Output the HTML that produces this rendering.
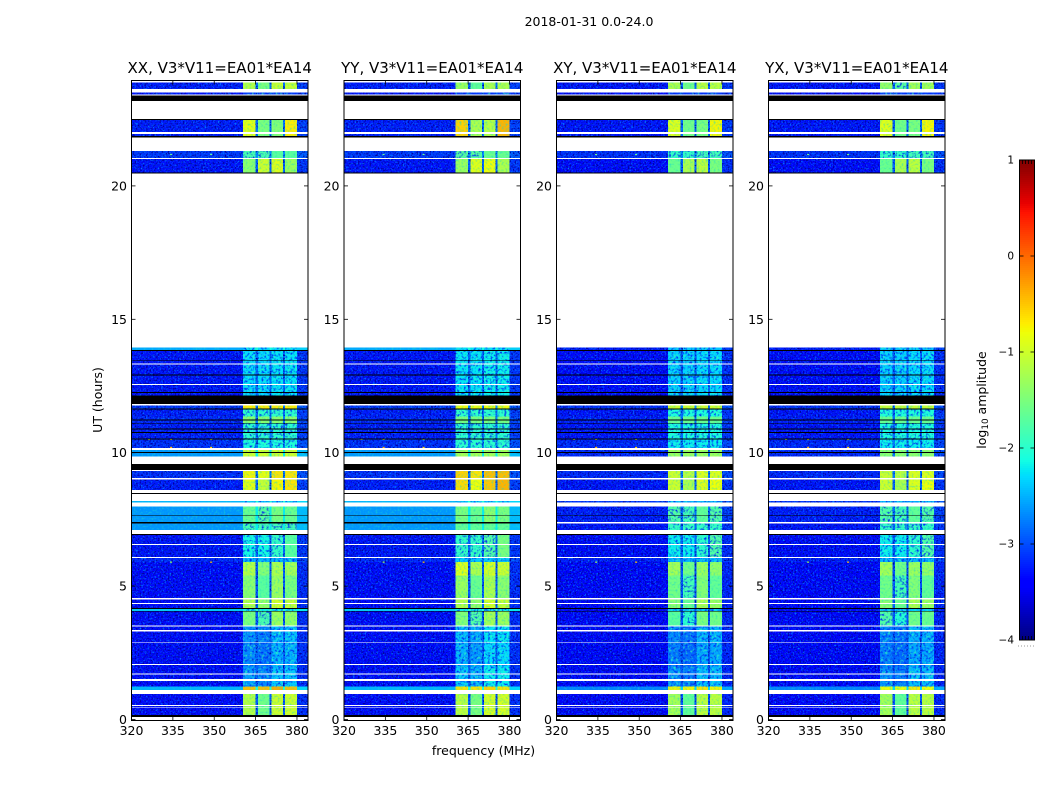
<!DOCTYPE html>
<html lang="en">
<head>
<meta charset="utf-8">
<title>2018-01-31 0.0-24.0 spectrogram</title>
<style>
html,body{margin:0;padding:0;background:#fff;}
svg{display:block;font-family:"DejaVu Sans","Liberation Sans",sans-serif;fill:#000;}
</style>
</head>
<body>
<svg id="chart" xmlns="http://www.w3.org/2000/svg" width="1050" height="800" viewBox="0 0 1050 800">
  <defs>
    <filter id="speckle-background" filterUnits="userSpaceOnUse" x="0" y="0" width="1050" height="800" color-interpolation-filters="sRGB">
      <feTurbulence type="fractalNoise" baseFrequency="0.6" numOctaves="2" seed="7" result="n"/>
      <feColorMatrix in="n" type="matrix" values="0 0 0 0 0  0 0 0 0 0.55  0 0 0 0 1  3 0 0 0 -1.5" result="lightA"/>
      <feComposite in="lightA" in2="SourceAlpha" operator="in" result="light"/>
      <feColorMatrix in="n" type="matrix" values="0 0 0 0 0  0 0 0 0 0  0 0 0 0 0.6  0 -4 0 0 2" result="darkA"/>
      <feComposite in="darkA" in2="SourceAlpha" operator="in" result="dark"/>
      <feMerge>
        <feMergeNode in="SourceGraphic"/>
        <feMergeNode in="light"/>
        <feMergeNode in="dark"/>
      </feMerge>
    </filter>
    <filter id="speckle-weak" filterUnits="userSpaceOnUse" x="0" y="0" width="1050" height="800" color-interpolation-filters="sRGB">
      <feTurbulence type="fractalNoise" baseFrequency="0.42" numOctaves="2" seed="19" result="n"/>
      <feColorMatrix in="n" type="matrix" values="0 0 0 0 0.2  0 0 0 0 1  0 0 0 0 0.7  2.4 0 0 0 -1.2" result="lightA"/>
      <feComposite in="lightA" in2="SourceAlpha" operator="in" result="light"/>
      <feColorMatrix in="n" type="matrix" values="0 0 0 0 0  0 0 0 0 0.15  0 0 0 0 0.95  0 -3 0 0 1.55" result="darkA"/>
      <feComposite in="darkA" in2="SourceAlpha" operator="in" result="dark"/>
      <feMerge>
        <feMergeNode in="SourceGraphic"/>
        <feMergeNode in="light"/>
        <feMergeNode in="dark"/>
      </feMerge>
    </filter>
    <filter id="speckle-strong" filterUnits="userSpaceOnUse" x="0" y="0" width="1050" height="800" color-interpolation-filters="sRGB">
      <feTurbulence type="fractalNoise" baseFrequency="0.5" numOctaves="2" seed="31" result="n"/>
      <feColorMatrix in="n" type="matrix" values="0 0 0 0 0.1  0 0 0 0 0.85  0 0 0 0 0.8  1.6 0 0 0 -0.75" result="lightA"/>
      <feComposite in="lightA" in2="SourceAlpha" operator="in" result="light"/>
      <feMerge>
        <feMergeNode in="SourceGraphic"/>
        <feMergeNode in="light"/>
      </feMerge>
    </filter>
  </defs>
  <text x="589" y="26" font-size="12.5" text-anchor="middle">2018-01-31 0.0-24.0</text>
  <text x="483.5" y="755" font-size="12.5" text-anchor="middle">frequency (MHz)</text>
  <text x="0" y="0" font-size="12.5" text-anchor="middle" transform="translate(102,400) rotate(-90)">UT (hours)</text>
  <text x="0" y="0" font-size="12.5" text-anchor="middle" transform="translate(986,400) rotate(-90)">log<tspan font-size="8.8" dy="2">10</tspan><tspan dy="-2"> amplitude</tspan></text>
</svg>
<script>
// Panels
const polNames = ['XX', 'YY', 'XY', 'YX'];
const panelSuffix = ', V3*V11=EA01*EA14';

// Axis ticks
const freqTicks = [320, 335, 350, 365, 380];
const hourTicks = [0, 5, 10, 15, 20];
const cbarTicks = [1, 0, -1, -2, -3, -4];
const cbarTickLabels = ['1', '0', '\u22121', '\u22122', '\u22123', '\u22124'];
const cbarMinorLow = [-3.95, -3.9, -3.85, -3.8];
const cbarMinorHigh = [0.8, 0.85, 0.9, 0.95];

// Frequency segments (MHz) and which spectral window each one belongs to
const segStart = [320, 360.5, 365, 365.8, 370, 370.8, 375, 375.7, 380];
const segEnd = [360.5, 365, 365.8, 370, 370.8, 375, 375.7, 380, 384];
const segChan = [-1, 0, -1, 1, -1, 2, -1, 3, -1];
const segLift = [0, 0, 0.45, 0, 0.45, 0, 0.45, 0, 0.18];

// Time bands (UT hours)
const bandStart = [0.16,1.11,1.23,1.95,2.86,3.49,4.04,4.18,4.55,5.4,5.91,6.10,7.10,7.40,8.13,8.60,9.06,9.85,10.17,10.5,11.09,11.35,11.66,12.14,13.85,20.51,21.05,21.87,23.38,23.63];
const bandEnd = [0.96,1.23,1.95,2.86,3.49,4.04,4.18,4.55,5.4,5.91,6.10,6.91,7.35,7.98,8.19,9.06,9.32,10.10,10.5,11.09,11.35,11.66,11.76,13.85,13.95,21.01,21.30,22.47,23.51,23.87];

// Window-to-window level offsets per band
const chan0Offset = [0,0,-0.1,-0.1,-0.1,0,0,0,0,0.1,0,-0.2,0,0,0,0,0,0,0,0,0,0,0,0,0,-0.3,-0.1,0.2,0,0];
const chan1Offset = [-0.4,0,-0.2,-0.2,-0.2,-0.3,0,-0.2,-0.3,-0.2,0,-0.2,0,-0.1,0,-0.2,-0.1,0,0,0,0,0,0,0,0,0.1,-0.1,-0.45,0,-0.35];
const chan2Offset = [0.15,0.1,0.1,0.1,0.1,0.2,0,0.2,0.1,0.05,0,0,0,0.1,0,0.1,0.1,0,0,0,0,0,0,0.05,0,0.2,0,-0.4,0,0.1];
const chan3Offset = [0.15,0,0.1,0.1,0.1,0.15,0,0.1,-0.1,0,0,0.25,0,0,0,0.2,0.1,0,0,0,0,0,0,0.05,0,-0.2,0,0.35,0,0.1];
const chanOffsets = [chan0Offset, chan1Offset, chan2Offset, chan3Offset];

// Background log10 amplitude per band, one array per polarisation
const bgXX = [-3.35,-2.5,-3.35,-3.35,-3.35,-3.35,-2.4,-3.35,-3.35,-3.35,-3.2,-3.3,-2.65,-2.65,-2.5,-3.25,-3.15,-2.65,-3.15,-3.25,-3.2,-3.25,-3.1,-3.3,-2.55,-3.3,-3.1,-3.25,-3.3,-3.25];
const bgYY = [-3.35,-2.5,-3.35,-3.35,-3.35,-3.35,-2.4,-3.35,-3.35,-3.35,-3.2,-3.3,-2.65,-2.65,-2.5,-3.25,-3.15,-2.65,-3.15,-3.25,-3.2,-3.25,-3.1,-3.3,-2.55,-3.3,-3.1,-3.25,-3.3,-3.25];
const bgXY = [-3.4,-2.75,-3.4,-3.4,-3.4,-3.4,-3.45,-3.4,-3.4,-3.4,-3.25,-3.35,-3.3,-3.25,-3.1,-3.3,-3.2,-3.2,-3.2,-3.3,-3.25,-3.3,-3.15,-3.35,-3.25,-3.35,-3.15,-3.3,-3.35,-3.3];
const bgYX = [-3.4,-2.75,-3.4,-3.4,-3.4,-3.4,-3.45,-3.4,-3.4,-3.4,-3.25,-3.35,-3.3,-3.25,-3.1,-3.3,-3.2,-3.2,-3.2,-3.3,-3.25,-3.3,-3.15,-3.35,-3.25,-3.35,-3.15,-3.3,-3.35,-3.3];

// Source signal log10 amplitude per band, one array per polarisation
const sigXX = [-1.15,-0.45,-2.5,-2.6,-2.55,-1.5,-2.2,-1.15,-1.4,-1.25,-2.5,-1.95,-1.85,-1.6,-2.4,-0.85,-0.75,-1.0,-2.1,-2.0,-1.4,-2.0,-0.7,-2.3,-2.3,-1.1,-1.7,-1.05,-3.1,-1.15];
const sigYY = [-1.1,-0.65,-2.3,-2.4,-2.35,-1.45,-2.2,-1.15,-1.3,-1.0,-2.4,-1.75,-1.65,-1.5,-2.4,-0.6,-0.55,-1.25,-2.0,-2.0,-1.5,-2.0,-0.8,-2.25,-2.3,-1.0,-1.6,-0.75,-3.1,-1.3];
const sigXY = [-1.25,-0.75,-2.55,-2.65,-2.6,-1.7,-2.4,-1.4,-1.55,-1.35,-2.5,-2.0,-1.95,-1.75,-2.5,-1.0,-1.0,-1.3,-2.2,-2.1,-1.6,-2.1,-1.0,-2.35,-2.4,-1.3,-1.85,-1.1,-3.1,-1.2];
const sigYX = [-1.25,-0.8,-2.55,-2.65,-2.6,-1.75,-2.4,-1.4,-1.55,-1.35,-2.5,-2.0,-1.95,-1.75,-2.5,-1.0,-1.0,-1.4,-2.2,-2.1,-1.6,-2.1,-1.05,-2.35,-2.4,-1.3,-1.85,-1.1,-3.1,-1.35];
const bgByPol = [bgXX, bgYY, bgXY, bgYX];
const sigByPol = [sigXX, sigYY, sigXY, sigYX];

// Flagged (blank) time ranges, hours
const whiteStart = [0,0.45,0.50,0.96,1.44,1.69,2.04,2.86,3.29,3.49,4.33,4.50,6.06,6.54,6.95,7.98,8.19,9.00,9.32,9.57,10.10,11.76,12.54,13.30,13.95,21.01,21.30,21.95,22.47,23.38,23.51,23.87];
const whiteEnd = [0.10,0.47,0.54,1.11,1.52,1.73,2.08,2.89,3.35,3.53,4.37,4.55,6.10,6.58,7.10,8.13,8.60,9.06,9.35,9.85,10.17,11.83,12.58,13.35,20.47,21.05,21.82,22.02,23.19,23.42,23.63,24];

// Dropped-data (black) time ranges, hours
const blackStart = [0.10,4.04,4.15,6.91,7.35,7.65,8.46,9.35,9.99,10.50,10.74,10.87,11.09,11.21,11.62,11.83,12.24,12.89,13.46,13.82,20.47,21.82,22.47,23.19];
const blackEnd = [0.16,4.07,4.18,6.95,7.40,7.67,8.49,9.57,10.02,10.53,10.77,10.90,11.12,11.24,11.65,12.14,12.27,12.93,13.48,13.85,20.51,21.87,22.50,23.38];

// Extra blank range present only in the cross-hand panels
const crossWhiteStart = [7.35];
const crossWhiteEnd = [7.40];

// Narrow-band interference spots
const rfiHour = [10.52,10.52,10.52,10.22,10.22,5.92,5.92,21.2,21.2,1.72];
const rfiFreq = [326,334,348.5,334,348.5,334,348.5,334,348.5,348.5];
const rfiLevel = [-1.1,-0.8,-1.0,-0.4,-0.6,-1.3,-0.5,-1.6,-1.6,-1.2];

// Layout
const panelLeft = [131.5, 344, 556.5, 768.5];
const panelWidth = 176.5;
const plotTop = 80.5;
const plotBottom = 720.5;
const cbarLeft = 1019.5;
const cbarRight = 1034.5;
const cbarTop = 160;
const cbarBottom = 640;
const ampMin = -4;
const ampMax = 1;
const weakLimit = -1.7;
const brightBgLimit = -2.8;

const NS = 'http://www.w3.org/2000/svg';
const svg = document.getElementById('chart');

function xScale(panel, mhz) {
  return panelLeft[panel] + (mhz - 320) * panelWidth / 64;
}
function yScale(hour) {
  return 719.5 - hour * 26.68;
}
function cbarScale(v) {
  return cbarBottom - (v - ampMin) * (cbarBottom - cbarTop) / (ampMax - ampMin);
}
function ramp(t, pts) {
  for (let i = 1; i < pts.length; i++) {
    if (t <= pts[i][0]) {
      const a = pts[i - 1], b = pts[i];
      return a[1] + (b[1] - a[1]) * (t - a[0]) / (b[0] - a[0]);
    }
  }
  return pts[pts.length - 1][1];
}
function jet(v) {
  const t = Math.min(1, Math.max(0, (v - ampMin) / (ampMax - ampMin)));
  const r = ramp(t, [[0, 0], [0.35, 0], [0.66, 1], [0.89, 1], [1, 0.5]]);
  const g = ramp(t, [[0, 0], [0.125, 0], [0.375, 1], [0.64, 1], [0.91, 0], [1, 0]]);
  const b = ramp(t, [[0, 0.5], [0.11, 1], [0.34, 1], [0.65, 0], [1, 0]]);
  return 'rgb(' + Math.round(r * 255) + ',' + Math.round(g * 255) + ',' + Math.round(b * 255) + ')';
}
function mk(parent, tag, attrs) {
  const el = document.createElementNS(NS, tag);
  for (const k in attrs) el.setAttribute(k, attrs[k]);
  parent.appendChild(el);
  return el;
}

polNames.forEach(function (pol, p) {
  const left = panelLeft[p];
  const right = left + panelWidth;
  const panel = mk(svg, 'g', {});
  
  

  const bgCells = mk(panel, 'g', { filter: 'url(#speckle-background)', 'shape-rendering': 'crispEdges' });
  
  
  const weakCells = mk(panel, 'g', { filter: 'url(#speckle-weak)', 'shape-rendering': 'crispEdges' });
  
  
  const strongCells = mk(panel, 'g', { filter: 'url(#speckle-strong)', 'shape-rendering': 'crispEdges' });
  
  

  bandStart.forEach(function (h0, b) {
    const h1 = bandEnd[b];
    const bg = bgByPol[p][b];
    const sig = sigByPol[p][b];
    segStart.forEach(function (f0, s) {
      const chan = segChan[s];
      const value = chan < 0 ? bg + segLift[s] : sig + chanOffsets[chan][b];
      let target = strongCells;
      if (chan < 0 && bg < brightBgLimit) target = bgCells;
      if (chan >= 0 && value < weakLimit) target = weakCells;
      const x0 = xScale(p, f0);
      const x1 = Math.min(xScale(p, segEnd[s]), right);
      const cell = mk(target, 'rect', {
        x: x0, y: yScale(h1), width: x1 - x0, height: yScale(h0) - yScale(h1), fill: jet(value)
      });
      
      
    });
  });

  rfiHour.forEach(function (h, i) {
    const spot = mk(panel, 'rect', {
      x: xScale(p, rfiFreq[i]), y: yScale(h), width: 2, height: 1.2, fill: jet(rfiLevel[i])
    });
    
    
  });

  whiteStart.forEach(function (h0, i) {
    const band = mk(panel, 'rect', {
      x: left, y: yScale(whiteEnd[i]), width: panelWidth, height: yScale(h0) - yScale(whiteEnd[i]),
      fill: '#fff', 'shape-rendering': 'crispEdges'
    });
    
    
  });
  blackStart.forEach(function (h0, i) {
    const band = mk(panel, 'rect', {
      x: left, y: yScale(blackEnd[i]), width: panelWidth, height: yScale(h0) - yScale(blackEnd[i]),
      fill: '#000', 'shape-rendering': 'crispEdges'
    });
    
    
  });
  if (p >= 2) {
    crossWhiteStart.forEach(function (h0, i) {
      const band = mk(panel, 'rect', {
        x: left, y: yScale(crossWhiteEnd[i]), width: panelWidth, height: yScale(h0) - yScale(crossWhiteEnd[i]),
        fill: '#fff', 'shape-rendering': 'crispEdges'
      });
      
      
    });
  }

  const frame = mk(panel, 'rect', {
    x: left, y: plotTop, width: panelWidth, height: plotBottom - plotTop, fill: 'none', stroke: '#000', 'stroke-width': 1
  });
  
  

  freqTicks.forEach(function (f) {
    const x = xScale(p, f);
    const tb = mk(panel, 'line', { x1: x, x2: x, y1: plotBottom, y2: plotBottom - 4, stroke: '#000', 'stroke-width': 0.8 });
    
    
    const tt = mk(panel, 'line', { x1: x, x2: x, y1: plotTop, y2: plotTop + 4, stroke: '#000', 'stroke-width': 0.8 });
    
    
    const lab = mk(panel, 'text', { x: x, y: 735, 'font-size': 12.5, 'text-anchor': 'middle' });
    
    
    lab.textContent = String(f);
  });
  hourTicks.forEach(function (h) {
    const y = yScale(h);
    const tl = mk(panel, 'line', { x1: left, x2: left + 4, y1: y, y2: y, stroke: '#000', 'stroke-width': 0.8 });
    
    
    const tr = mk(panel, 'line', { x1: right, x2: right - 4, y1: y, y2: y, stroke: '#000', 'stroke-width': 0.8 });
    
    
    const lab = mk(panel, 'text', { x: left - 4.5, y: y + 4.5, 'font-size': 12.5, 'text-anchor': 'end' });
    
    
    lab.textContent = String(h);
  });

  const title = mk(panel, 'text', { x: left + panelWidth / 2, y: 73, 'font-size': 15, 'text-anchor': 'middle' });
  
  
  title.textContent = pol + panelSuffix;
});

// Colour bar
const cbar = mk(svg, 'g', {});


for (let py = cbarTop; py < cbarBottom; py += 2) {
  const v = ampMax - (py + 1 - cbarTop) * (ampMax - ampMin) / (cbarBottom - cbarTop);
  const strip = mk(cbar, 'rect', {
    x: cbarLeft, y: py, width: cbarRight - cbarLeft, height: 2.2, fill: jet(v), 'shape-rendering': 'crispEdges'
  });
  
  
}
const cbarFrame = mk(cbar, 'rect', {
  x: cbarLeft, y: cbarTop, width: cbarRight - cbarLeft, height: cbarBottom - cbarTop, fill: 'none', stroke: '#000', 'stroke-width': 1
});


cbarTicks.forEach(function (v, i) {
  const y = cbarScale(v);
  const t1 = mk(cbar, 'line', { x1: cbarLeft, x2: cbarLeft + 4, y1: y, y2: y, stroke: '#000', 'stroke-width': 0.8 });
  
  
  const t2 = mk(cbar, 'line', { x1: cbarRight, x2: cbarRight - 4, y1: y, y2: y, stroke: '#000', 'stroke-width': 0.8 });
  
  
  const lab = mk(cbar, 'text', { x: 1014, y: y + 3.5, 'font-size': 10.5, 'text-anchor': 'end' });
  
  
  lab.textContent = cbarTickLabels[i];
});
[cbarMinorLow, cbarMinorHigh].forEach(function (list, side) {
  list.forEach(function (v, j) {
    const x = cbarLeft + (cbarRight - cbarLeft) * (j + 1) / 5;
    const edge = side === 1 ? cbarTop : cbarBottom;
    const tip = side === 1 ? edge + 4 : edge - 4;
    const t = mk(cbar, 'line', { x1: x, x2: x, y1: edge, y2: tip, stroke: '#000', 'stroke-width': 0.8 });
    
    
  });
});
const dots = mk(cbar, 'line', {
  x1: 1018, x2: 1035, y1: 646, y2: 646, stroke: '#999', 'stroke-width': 1, 'stroke-dasharray': '1 2'
});


</script>
</body>
</html>
